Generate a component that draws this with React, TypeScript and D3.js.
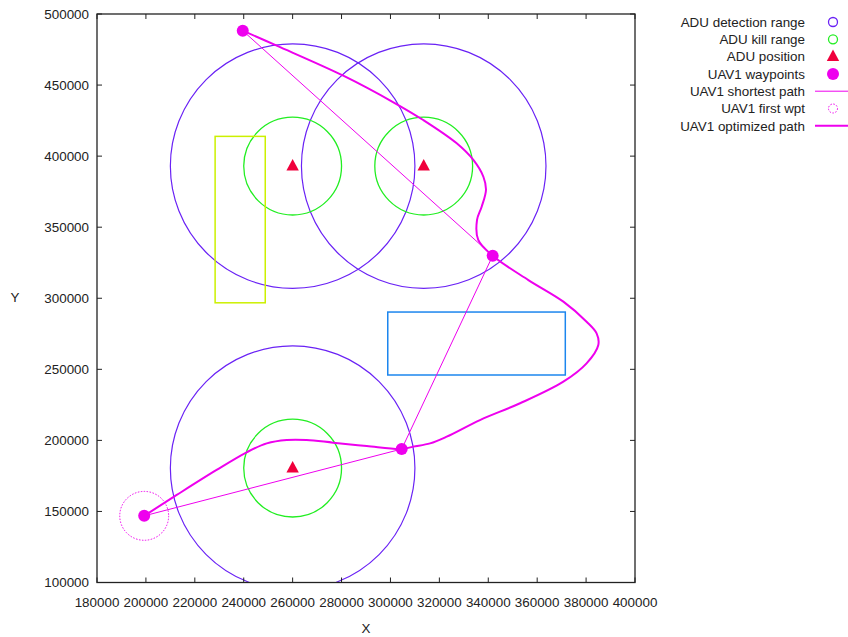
import React from "react";
import * as d3 from "d3";

const W = 848, H = 637;
const M = { left: 97, right: 635, top: 14, bottom: 582.5 };

const xTicks = [180000, 200000, 220000, 240000, 260000, 280000, 300000, 320000, 340000, 360000, 380000, 400000];
const yTicks = [100000, 150000, 200000, 250000, 300000, 350000, 400000, 450000, 500000];

// ADU centres [x, y]
const aduX = [260000, 313600, 260000];
const aduY = [393000, 393000, 180500];
const detectionRadius = 50000;
const killRadius = 20000;

// UAV1 waypoints
const wptX = [199300, 304600, 341800, 239600];
const wptY = [146900, 193900, 329900, 488250];
const firstWptRadius = 10000;

// rectangles [x0, x1, y0, y1]
const yellowRect = [228300, 248800, 296800, 413900];
const blueRect = [298900, 371500, 246000, 290300];

// optimized path
const optX = [199300, 212600, 228900, 241200, 249400, 257600, 265700, 276600, 290300, 304600, 309300, 316200, 323000, 336600, 353000, 370700, 380200, 385000, 384300, 380200, 370700, 356400, 341800, 335900, 335400, 337300, 339060, 338000, 333900, 327100, 313400, 301200, 280700, 253500, 239600];
const optY = [146900, 161600, 179200, 191600, 197900, 200300, 200300, 198400, 196000, 193900, 195600, 197900, 202600, 214300, 226100, 241300, 254200, 267100, 275300, 283500, 297600, 312800, 329900, 341000, 355100, 364400, 376170, 385500, 397300, 409000, 425400, 437900, 456600, 477700, 488250];

const legendLabels = ["ADU detection range", "ADU kill range", "ADU position", "UAV1 waypoints", "UAV1 shortest path", "UAV1 first wpt", "UAV1 optimized path"];

const C_DET = "#6a22f5";
const C_KILL = "#22ee22";
const C_ADU = "#f0003c";
const C_UAV = "#ee00ee";
const C_YEL = "#ccf000";
const C_BLUE = "#1c86ee";

export default function App() {
  const x = d3.scaleLinear().domain([180000, 400000]).range([M.left, M.right]);
  const y = d3.scaleLinear().domain([100000, 500000]).range([M.bottom, M.top]);
  const rpx = (r: number) => x(180000 + r) - x(180000);
  const font = "'Liberation Sans', Arial, sans-serif";
  const tri = (cx: number, cy: number, s: number) =>
    `M${cx},${cy - s * 0.7}L${cx + s * 0.62},${cy + s * 0.45}L${cx - s * 0.62},${cy + s * 0.45}Z`;

  const line = d3.line<number>().x((_, i) => x(optX[i])).y((_, i) => y(optY[i])).curve(d3.curveCatmullRom.alpha(0.5));
  const shortest = d3.line<number>().x((_, i) => x(wptX[i])).y((_, i) => y(wptY[i]));

  const legX = 805, legY0 = 22, legDy = 17.3, symX = 833;
  const fs = 13.4;

  return (
    <svg width={W} height={H} style={{ position: "absolute", left: 0, top: 0, background: "#fff" }} fontFamily={font}>
      <defs>
        <clipPath id="plotclip">
          <rect x={M.left} y={M.top} width={M.right - M.left} height={M.bottom - M.top} />
        </clipPath>
      </defs>
      <rect width={W} height={H} fill="#fff" />
      <g clipPath="url(#plotclip)">
        {aduX.map((cx, i) => (
          <circle key={"d" + i} cx={x(cx)} cy={y(aduY[i])} r={rpx(detectionRadius)} fill="none" stroke={C_DET} strokeWidth={1.2} />
        ))}
        {aduX.map((cx, i) => (
          <circle key={"k" + i} cx={x(cx)} cy={y(aduY[i])} r={rpx(killRadius)} fill="none" stroke={C_KILL} strokeWidth={1.3} />
        ))}
        <rect x={x(yellowRect[0])} y={y(yellowRect[3])} width={x(yellowRect[1]) - x(yellowRect[0])} height={y(yellowRect[2]) - y(yellowRect[3])} fill="none" stroke={C_YEL} strokeWidth={1.5} />
        <rect x={x(blueRect[0])} y={y(blueRect[3])} width={x(blueRect[1]) - x(blueRect[0])} height={y(blueRect[2]) - y(blueRect[3])} fill="none" stroke={C_BLUE} strokeWidth={1.5} />
        {aduX.map((cx, i) => (
          <path key={"t" + i} d={tri(x(cx), y(aduY[i]), 10)} fill={C_ADU} />
        ))}
        <path d={shortest(wptX) || ""} fill="none" stroke={C_UAV} strokeWidth={1} />
        <circle cx={x(wptX[0])} cy={y(wptY[0])} r={rpx(firstWptRadius)} fill="none" stroke={C_UAV} strokeWidth={1} strokeDasharray="1.5,1.5" />
        <path d={line(optX) || ""} fill="none" stroke={C_UAV} strokeWidth={2} />
        {wptX.map((wx, i) => (
          <circle key={"w" + i} cx={x(wx)} cy={y(wptY[i])} r={6} fill={C_UAV} />
        ))}
      </g>
      <rect x={M.left} y={M.top} width={M.right - M.left} height={M.bottom - M.top} fill="none" stroke="#222" strokeWidth={1.3} />
      {xTicks.map((t) => (
        <g key={"xt" + t}>
          <line x1={x(t)} x2={x(t)} y1={M.bottom} y2={M.bottom - 5} stroke="#222" />
          <line x1={x(t)} x2={x(t)} y1={M.top} y2={M.top + 5} stroke="#222" />
          <text x={x(t)} y={606.5} textAnchor="middle" fontSize={fs} fill="#222">{t}</text>
        </g>
      ))}
      {yTicks.map((t) => (
        <g key={"yt" + t}>
          <line x1={M.left} x2={M.left + 5} y1={y(t)} y2={y(t)} stroke="#222" />
          <line x1={M.right} x2={M.right - 5} y1={y(t)} y2={y(t)} stroke="#222" />
          <text x={89} y={y(t) + 4.8} textAnchor="end" fontSize={fs} fill="#222">{t}</text>
        </g>
      ))}
      <text x={366} y={632.5} textAnchor="middle" fontSize={fs} fill="#222">X</text>
      <text x={15} y={301.5} textAnchor="middle" fontSize={fs} fill="#222">Y</text>
      {legendLabels.map((l, i) => {
        const cy = legY0 + i * legDy;
        let sym: React.ReactNode = null;
        if (i === 0) sym = <circle cx={symX} cy={cy} r={4.5} fill="none" stroke={C_DET} strokeWidth={1.3} />;
        else if (i === 1) sym = <circle cx={symX} cy={cy} r={4.5} fill="none" stroke={C_KILL} strokeWidth={1.3} />;
        else if (i === 2) sym = <path d={tri(symX, cy, 10)} fill={C_ADU} />;
        else if (i === 3) sym = <circle cx={symX} cy={cy} r={6} fill={C_UAV} />;
        else if (i === 4) sym = <line x1={815} x2={848} y1={cy} y2={cy} stroke={C_UAV} strokeWidth={1} />;
        else if (i === 5) sym = <circle cx={symX} cy={cy} r={4.5} fill="none" stroke={C_UAV} strokeWidth={1} strokeDasharray="1.5,1.5" />;
        else sym = <line x1={815} x2={848} y1={cy} y2={cy} stroke={C_UAV} strokeWidth={2} />;
        return (
          <g key={"lg" + i}>
            <text x={legX} y={cy + 4.8} textAnchor="end" fontSize={fs} fill="#222">{l}</text>
            {sym}
          </g>
        );
      })}
    </svg>
  );
}
